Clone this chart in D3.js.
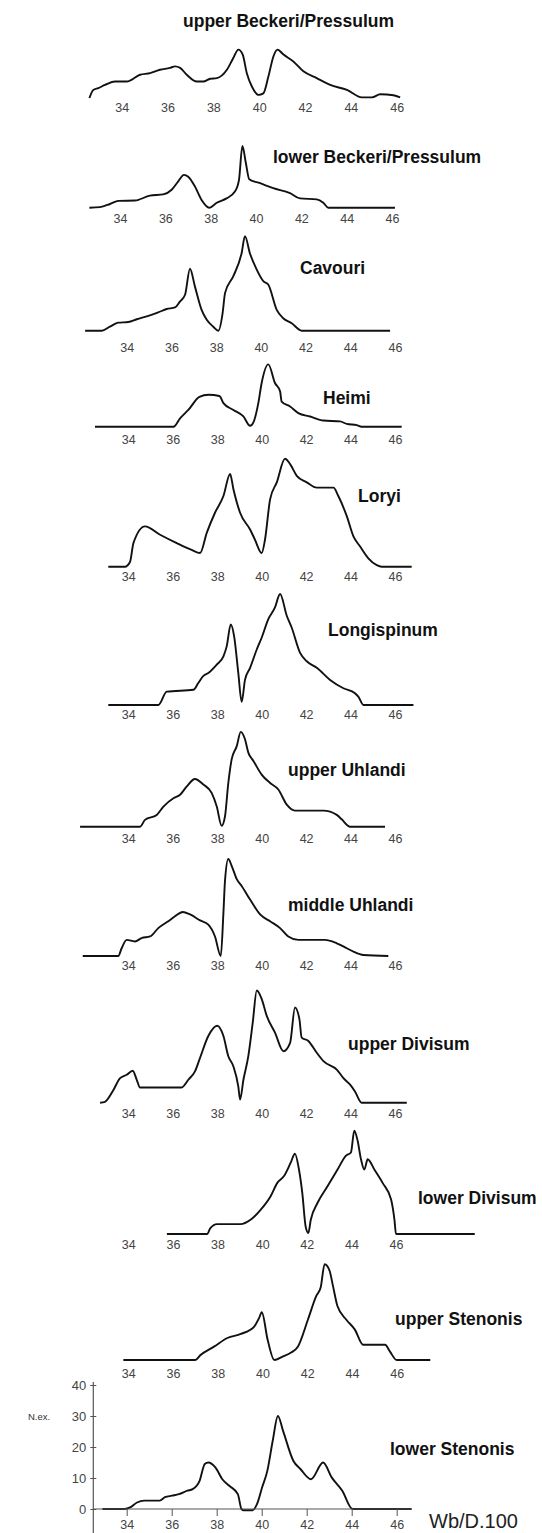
<!DOCTYPE html>
<html>
<head>
<meta charset="utf-8">
<script src="https://cdn.jsdelivr.net/npm/d3@7"></script>
<style>
  body { margin: 0; background: #fff; }
  svg { display: block; font-family: "Liberation Sans", Arial, sans-serif; }
  .title { font-weight: bold; font-size: 17.5px; fill: #111; }
  .tick text { fill: #444; }
</style>
</head>
<body>
<div id="chart-container"></div>
<script>
// canvas size
const width = 542;
const height = 1533;

// tick values, shared by every panel
const xTicks = [34, 36, 38, 40, 42, 44, 46];
const yTicks = [0, 10, 20, 30, 40];

const stageNames = [
  "upper Beckeri/Pressulum", "lower Beckeri/Pressulum", "Cavouri", "Heimi",
  "Loryi", "Longispinum", "upper Uhlandi", "middle Uhlandi",
  "upper Divisum", "lower Divisum", "upper Stenonis", "lower Stenonis"
];

// [Wb/D.100, N.ex.]
const upperBeckeri = [[32.59,0],[32.76,2.6],[32.98,3.2],[33.27,4.2],[33.71,5.3],[34.22,5.3],[34.8,7.5],[35.24,8.0],
  [35.67,9.1],[36.1,9.7],[36.33,10.2],[36.55,9.7],[36.84,7.5],[37.28,5.3],[37.56,5.3],[37.86,6.2],[38.15,6.4],
  [38.59,9.1],[38.87,12.9],[39.09,15.6],[39.28,14],[39.46,8.0],[39.68,3.7],[39.97,1.0],[40.18,1.5],[40.4,6.9],
  [40.62,13.4],[40.8,15.6],[41.06,14],[41.49,11.8],[41.93,8.6],[42.51,6.4],[43.1,4.2],[43.83,2.6],[44.48,0.2],
  [44.92,0.2],[45.28,1.2],[45.86,0.9],[46.15,0.2]];
const lowerBeckeri = [[32.65,0],[33.12,0.2],[33.56,1.2],[33.93,2.2],[34.66,2.3],[35.32,3.9],[35.91,4.3],[36.28,5.8],
  [36.57,8.5],[36.82,10.6],[37.01,10],[37.31,6.8],[37.6,2.5],[37.94,0],[38.27,1.6],[38.7,3.0],[39.07,5.2],[39.25,9],
  [39.4,19.9],[39.55,14.5],[39.7,9.2],[40.18,7.9],[40.76,6.3],[41.5,4.7],[41.94,3.0],[42.68,2.7],[42.97,1.6],
  [43.19,0],[46.13,0]];
const cavouri = [[32.14,0],[32.88,0],[33.25,1.3],[33.62,2.6],[34.07,2.8],[34.45,3.7],[34.97,4.8],[35.41,5.9],
  [35.79,7.0],[36.16,7.5],[36.38,9.4],[36.61,11.6],[36.83,20],[37.05,14.3],[37.35,6.7],[37.58,3.5],[37.87,1.3],
  [38.1,0],[38.29,5.7],[38.4,12.2],[38.77,17.6],[39.14,25],[39.29,30.5],[39.51,25],[39.81,19.8],[40.11,16],
  [40.33,14.9],[40.71,6.7],[41.0,4.0],[41.38,2.4],[41.75,0.2],[41.83,0],[45.78,0]];
const heimi = [[32.5,0],[36.03,0],[36.33,2.7],[36.7,5.4],[37.2,9.6],[37.6,10.3],[38.1,9.9],[38.28,7.6],[38.73,5.4],
  [39.18,3.3],[39.48,0.3],[39.63,1.4],[39.85,7.6],[40.0,14.1],[40.3,20.1],[40.6,14.1],[40.83,11.4],[40.9,8.1],
  [41.28,6.5],[41.65,4.4],[42.18,3.3],[42.78,2.0],[43.53,1.7],[43.83,0.9],[44.28,0.5],[44.5,0],[46.3,0]];
const loryi = [[33.1,0],[33.85,0],[34.08,1.6],[34.23,7.6],[34.75,13],[35.43,10.3],[36.18,7.6],[36.85,5.4],
  [37.23,4.4],[37.53,10.9],[37.9,17.4],[38.28,22.8],[38.58,29.9],[38.73,25],[39.03,17.4],[39.48,12],[39.7,8.7],
  [40.0,4.4],[40.15,8.7],[40.38,21.7],[40.68,27.2],[41.05,34.8],[41.28,33.1],[41.58,29.3],[42.03,27.2],
  [42.48,25.5],[43.23,25.5],[43.45,22.8],[43.83,16.3],[44.13,9.8],[44.43,6.5],[44.8,2.7],[45.18,0.5],[45.4,0],
  [46.75,0]];
const longispinum = [[33.1,0],[35.35,0],[35.73,4.3],[36.93,4.9],[37.15,7.1],[37.38,9.4],[37.6,10.3],[37.98,13],
  [38.28,15.7],[38.43,19],[38.61,26],[38.76,22.2],[38.95,10.3],[39.1,1.0],[39.25,8.1],[39.48,12],[39.78,17.9],
  [40.0,21.7],[40.3,27.7],[40.6,31.5],[40.83,35.8],[41.13,28.8],[41.35,25],[41.73,16.8],[42.03,14.1],[42.48,12],
  [43.08,8.1],[43.68,5.4],[44.2,3.8],[44.35,2.7],[44.58,0],[46.83,0]];
const upperUhlandi = [[31.83,0],[34.53,0],[34.75,2.2],[35.28,3.8],[35.58,6.5],[36.03,9.2],[36.33,10.3],[36.63,13],
  [37.0,15.4],[37.38,13.6],[37.75,10.9],[37.98,6.5],[38.2,0.3],[38.35,3.3],[38.5,14.1],[38.65,21.7],[38.88,26],
  [39.06,30.6],[39.25,28.2],[39.4,23.9],[39.63,21.2],[40.0,16.8],[40.38,14.1],[40.75,12],[41.13,7.1],[41.5,5.2],
  [42.78,5.2],[43.38,3.8],[43.6,2.4],[43.98,0],[45.55,0]];
const middleUhlandi = [[31.95,0],[33.55,0],[33.7,2.5],[33.93,5.2],[34.3,4.7],[34.6,5.8],[34.98,6.3],[35.35,9.0],
  [35.8,11.2],[36.1,12.8],[36.45,14.2],[36.78,13.4],[37.23,11.5],[37.6,10.1],[37.9,6.3],[38.16,0],[38.28,13.9],
  [38.35,24.2],[38.5,31.3],[38.65,29.1],[38.88,24.8],[39.1,22.6],[39.48,18.2],[39.93,13.4],[40.38,11.2],
  [40.83,9.0],[41.2,6.3],[41.65,5.2],[42.85,5.2],[43.38,4.1],[43.83,2.5],[44.13,1.4],[44.58,0.3],[45.7,0]];
const upperDivisum = [[32.73,0],[32.95,0.3],[33.33,4.1],[33.63,7.9],[33.93,9.0],[34.2,10.3],[34.38,7.4],[34.53,4.9],
  [36.4,4.9],[36.7,7.4],[37.0,10.1],[37.23,14.5],[37.6,21.5],[38.0,24.8],[38.28,21.5],[38.5,15],[38.73,11.7],
  [38.95,5.2],[39.03,1.0],[39.18,7.4],[39.4,15],[39.6,25.9],[39.78,36.2],[40.0,33.5],[40.23,28],[40.6,22.6],
  [40.98,16.6],[41.28,19.3],[41.5,30.7],[41.7,26.9],[41.8,21],[42.1,19.9],[42.48,16.1],[42.78,13.4],[43.38,10.7],
  [43.68,7.9],[43.98,5.8],[44.2,3.6],[44.5,0],[46.53,0]];
const lowerDivisum = [[35.73,0],[37.53,0],[37.68,1.9],[37.98,3.2],[39.03,3.2],[39.48,4.6],[39.93,7.8],[40.38,12.2],
  [40.68,16.5],[40.98,18.7],[41.28,23.0],[41.47,25.9],[41.65,20.8],[41.8,13.2],[41.95,2.4],[42.07,0.3],[42.18,4.6],
  [42.48,10.0],[42.93,15.4],[43.38,20.8],[43.75,25.2],[43.98,26.3],[44.13,33.3],[44.28,30.1],[44.43,24.1],
  [44.58,20.8],[44.73,24.1],[45.03,20.8],[45.4,16.5],[45.78,11.1],[45.93,4.6],[46.0,0],[49.53,0]];
const upperStenonis = [[33.78,0],[37.0,0],[37.23,1.6],[37.83,4.3],[38.43,7.1],[39.03,8.4],[39.63,10.8],[39.85,13.6],
  [39.97,15.4],[40.23,6.5],[40.53,0],[40.9,1.1],[41.28,2.4],[41.58,4.3],[42.03,13],[42.4,20.6],[42.6,23.4],
  [42.78,30.9],[43.0,28.8],[43.15,23.9],[43.35,17.4],[43.75,13],[44.13,9.8],[44.5,4.9],[45.48,4.9],[45.7,2.7],
  [46.0,0],[47.5,0]];
const lowerStenonis = [[32.92,0],[33.92,0],[34.15,0.5],[34.46,2.1],[34.77,2.7],[35.47,2.7],[35.7,3.8],[36.01,4.3],
  [36.32,4.8],[36.7,5.9],[36.93,6.4],[37.24,9.1],[37.47,14.5],[37.63,15.0],[37.94,13.4],[38.25,9.6],[38.56,7.5],
  [38.94,4.8],[39.1,0],[39.2,-0.4],[39.6,-0.4],[39.79,1.6],[40.02,7.0],[40.25,12.3],[40.49,22.0],[40.72,30.0],
  [40.95,25.2],[41.41,15.5],[41.72,12.9],[42.19,9.6],[42.73,15.0],[43.11,10.2],[43.58,5.9],[44.04,0],[46.66,0]];

const series = [upperBeckeri, lowerBeckeri, cavouri, heimi, loryi, longispinum,
  upperUhlandi, middleUhlandi, upperDivisum, lowerDivisum, upperStenonis, lowerStenonis];

// where each small panel sits on the page (zero line, x range, tick row, title)
const layout = [
  { base: 98,   x0: 121.7, x1: 396.7, tickY: 108,   tx: 183, ty: 21 },
  { base: 207.7, x0: 120,  x1: 392,   tickY: 218.3, tx: 273, ty: 157 },
  { base: 330.7, x0: 126.7, x1: 395,  tickY: 347.3, tx: 300, ty: 268 },
  { base: 426.7, x0: 128.3, x1: 395,  tickY: 439.3, tx: 323, ty: 397.5 },
  { base: 566.7, x0: 128.3, x1: 395,  tickY: 576.7, tx: 358, ty: 495.5 },
  { base: 705,   x0: 128.3, x1: 395,  tickY: 715,   tx: 328, ty: 629.5 },
  { base: 826.7, x0: 128.3, x1: 395,  tickY: 838.3, tx: 288, ty: 769.5 },
  { base: 956,   x0: 128.3, x1: 395,  tickY: 966,   tx: 288, ty: 904.5 },
  { base: 1102.7, x0: 128.3, x1: 395, tickY: 1113.3, tx: 348, ty: 1043.5 },
  { base: 1234,  x0: 128.3, x1: 396,  tickY: 1245,  tx: 418, ty: 1198 },
  { base: 1360,  x0: 128.3, x1: 396.7, tickY: 1373.3, tx: 395, ty: 1319 },
  { base: 1509,  x0: 126.7, x1: 396.7, tickY: null, tx: 390, ty: 1449 }
];

const svg = d3.select("#chart-container")
  .append("svg")
  .attr("width", width)
  .attr("height", height);

const pxPerUnit = 3.1; // vertical scale is the same for every panel

layout.forEach((p, i) => {
  const x = d3.scaleLinear().domain([34, 46]).range([p.x0, p.x1]);
  const y = d3.scaleLinear().domain([0, 40]).range([p.base, p.base - 40 * pxPerUnit]);

  const g = svg.append("g").attr("class", "panel");

  if (p.tickY !== null) {
    // only tick numbers, no axis line
    const ax = g.append("g")
      .attr("transform", `translate(0,${p.tickY})`)
      .call(d3.axisBottom(x).tickValues(xTicks).tickSize(0).tickPadding(0).tickFormat(d3.format("d")));
    ax.select(".domain").remove();
    ax.selectAll("text")
      .attr("dy", "0.35em")
      .style("font-size", "12.5px");
  }

  g.append("path")
    .datum(series[i])
    .attr("fill", "none")
    .attr("stroke", "#111")
    .attr("stroke-width", 1.9)
    .attr("stroke-linejoin", "round")
    .attr("d", d3.line().curve(d3.curveMonotoneX).x(d => x(d[0])).y(d => y(d[1])));

  g.append("text")
    .attr("class", "title")
    .attr("x", p.tx)
    .attr("y", p.ty)
    .attr("dominant-baseline", "central")
    .text(stageNames[i]);

  // the last panel carries the real axes
  if (i === layout.length - 1) {
    const axisColor = "#555";
    const yAx = g.append("g")
      .attr("transform", `translate(93.3,0)`)
      .call(d3.axisLeft(y).tickValues(yTicks).tickSize(3).tickPadding(4));
    yAx.select(".domain").remove();
    yAx.selectAll(".tick line").attr("x1", -3).attr("x2", 3).attr("stroke", axisColor);
    yAx.selectAll("text").style("font-size", "13px").attr("fill", "#333");

    g.append("line")
      .attr("x1", 93.3).attr("x2", 93.3)
      .attr("y1", y(40) - 3).attr("y2", height)
      .attr("stroke", axisColor).attr("stroke-width", 1.2);

    const xAx = g.append("g")
      .attr("transform", `translate(0,${p.base})`)
      .call(d3.axisBottom(x).tickValues(xTicks).tickSize(7).tickPadding(4).tickFormat(d3.format("d")));
    xAx.select(".domain").remove();
    xAx.selectAll(".tick line").attr("stroke", axisColor);
    xAx.selectAll("text").style("font-size", "12.5px");

    g.append("line")
      .attr("x1", 93.3).attr("x2", x(46.66))
      .attr("y1", p.base).attr("y2", p.base)
      .attr("stroke", axisColor).attr("stroke-width", 1.2);

    g.append("text")
      .attr("x", 28).attr("y", y(30))
      .attr("dominant-baseline", "central")
      .style("font-size", "9.5px")
      .attr("fill", "#333")
      .text("N.ex.");

    g.append("text")
      .attr("x", 429).attr("y", 1521)
      .attr("dominant-baseline", "central")
      .style("font-size", "20px")
      .attr("fill", "#222")
      .text("Wb/D.100");
  }
});
</script>
</body>
</html>
